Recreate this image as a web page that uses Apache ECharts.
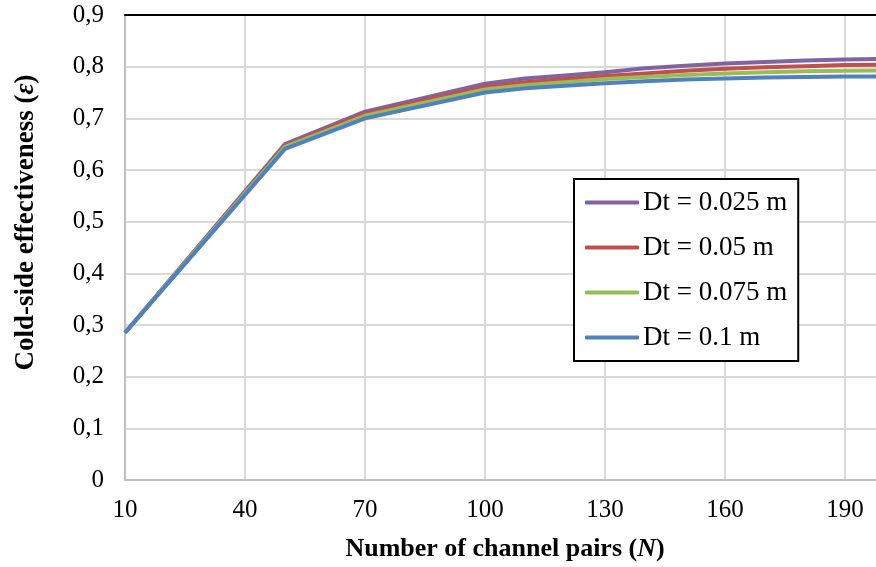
<!DOCTYPE html>
<html>
<head>
<meta charset="utf-8">
<script src="https://cdn.jsdelivr.net/npm/echarts@6/dist/echarts.min.js"></script>
<style>
  html, body { margin: 0; padding: 0; background: #fff; }
  #chart { width: 876px; height: 567px; }
</style>
</head>
<body>
<div id="chart"></div>
<script>
// channel pairs N
var nValues = [10, 50, 70, 100, 110, 120, 130, 140, 150, 160, 170, 180, 190, 200]
// cold-side effectiveness per tube diameter
var dt025 = [0.285, 0.650, 0.713, 0.767, 0.777, 0.783, 0.789, 0.797, 0.802, 0.806, 0.809, 0.812, 0.814, 0.815]
var dt05 = [0.285, 0.647, 0.709, 0.761, 0.770, 0.776, 0.782, 0.787, 0.792, 0.796, 0.799, 0.801, 0.803, 0.804]
var dt075 = [0.285, 0.645, 0.705, 0.756, 0.764, 0.770, 0.776, 0.780, 0.784, 0.787, 0.789, 0.791, 0.792, 0.793]
var dt1 = [0.285, 0.641, 0.700, 0.750, 0.758, 0.763, 0.768, 0.772, 0.775, 0.777, 0.779, 0.780, 0.781, 0.781]
var seriesNames = ['Dt = 0.025 m', 'Dt = 0.05 m', 'Dt = 0.075 m', 'Dt = 0.1 m']
var seriesColors = ['#8064A2', '#C0504D', '#9BBB59', '#4F81BD']

var font = '"Liberation Serif", "Times New Roman", serif'

function pairs(ys) {
  return nValues.map(function (n, i) {
    return [n, ys[i]]
  })
}

var chart = echarts.init(document.getElementById('chart'))
var allData = [dt025, dt05, dt075, dt1]

var option = {
  animation: false,
  backgroundColor: '#fff',
  grid: {
    left: 125,
    right: -9,
    top: 15,
    bottom: 87,
    outerBoundsMode: 'none',
    containLabel: false
  },
  legend: {
    orient: 'vertical',
    left: 574,
    top: 179,
    icon: 'roundRect',
    itemWidth: 54,
    itemHeight: 4,
    itemGap: 18,
    padding: [10, 11, 10, 11],
    borderColor: '#000',
    borderWidth: 2,
    backgroundColor: '#fff',
    data: seriesNames,
    textStyle: {
      fontFamily: font,
      fontSize: 27,
      color: '#000',
      padding: [0, 0, 0, -1]
    }
  },
  xAxis: [
    {
      type: 'value',
      min: 10,
      max: 200,
      interval: 30,
      name: '{b|Number of channel pairs (}{bi|N}{b|)}',
      nameLocation: 'middle',
      nameGap: 56,
      nameTextStyle: {
        rich: {
          b: { fontFamily: font, fontSize: 26, fontWeight: 'bold', color: '#000' },
          bi: { fontFamily: font, fontSize: 26, fontWeight: 'bold', fontStyle: 'italic', color: '#000' }
        }
      },
      axisLine: { show: true, lineStyle: { color: '#bfbfbf', width: 2 } },
      axisTick: { show: false },
      axisLabel: {
        margin: 18,
        fontFamily: font,
        fontSize: 25,
        color: '#000',
        showMaxLabel: false
      },
      splitLine: { show: true, lineStyle: { color: '#d9d9d9', width: 2 } }
    },
    {
      type: 'value',
      position: 'top',
      min: 10,
      max: 200,
      interval: 30,
      axisLine: { show: true, onZero: false, lineStyle: { color: '#000', width: 2 } },
      axisTick: { show: false },
      axisLabel: { show: false },
      splitLine: { show: false }
    }
  ],
  yAxis: {
    type: 'value',
    min: 0,
    max: 0.9,
    interval: 0.1,
    name: '{b|Cold-side effectiveness (}{bi|ε}{b|)}',
    nameLocation: 'middle',
    nameGap: 85,
    nameTextStyle: {
      padding: [0, 0, 0, 50],
      rich: {
        b: { fontFamily: font, fontSize: 27, fontWeight: 'bold', color: '#000' },
        bi: { fontFamily: font, fontSize: 27, fontWeight: 'bold', fontStyle: 'italic', color: '#000' }
      }
    },
    axisLine: { show: true, lineStyle: { color: '#bfbfbf', width: 2 } },
    axisTick: { show: false },
    axisLabel: {
      margin: 21,
      fontFamily: font,
      fontSize: 25,
      color: '#000',
      formatter: function (v) {
        if (v === 0) return '0'
        return v.toFixed(1).replace('.', ',')
      }
    },
    splitLine: { show: true, lineStyle: { color: '#d9d9d9', width: 2 } }
  },
  series: allData.map(function (ys, i) {
    return {
      name: seriesNames[i],
      type: 'line',
      xAxisIndex: 0,
      data: pairs(ys),
      symbol: 'none',
      lineStyle: { color: seriesColors[i], width: 4 },
      itemStyle: { color: seriesColors[i] }
    }
  })
}

chart.setOption(option)
</script>
</body>
</html>
